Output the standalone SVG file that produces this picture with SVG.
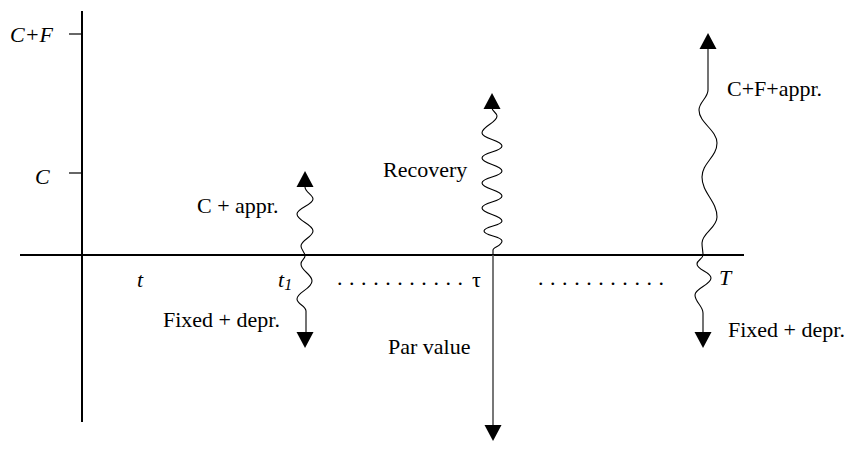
<svg xmlns="http://www.w3.org/2000/svg" xmlns:xlink="http://www.w3.org/1999/xlink" width="847" height="450" viewBox="0 0 847 450">
<style>
  .axis{stroke:#000;stroke-width:2;fill:none}
  .tick{stroke:#000;stroke-width:1.2;fill:none}
  .wave{stroke:#000;stroke-width:1.1;fill:none}
  .par{stroke:#555;stroke-width:1.6;fill:none}
  .lbl{font-family:"Liberation Serif","Times New Roman",serif;font-size:22px;fill:#000}
  .it{font-style:italic}
  .head{fill:#000}
</style>
<defs>
  <path id="up" d="M0,0 L-8.5,16 L8.5,16 Z"/>
  <path id="down" d="M0,0 L-8.5,-16 L8.5,-16 Z"/>
</defs>
<rect width="847" height="450" fill="#fff"/>
<g id="axes">
  <line class="axis" x1="82" y1="11" x2="82" y2="422"/>
  <line class="axis" x1="20" y1="255" x2="744" y2="255"/>
  <line class="tick" x1="69" y1="34" x2="82" y2="34"/>
  <line class="tick" x1="69" y1="173" x2="82" y2="173"/>
  <text class="lbl it" x="10" y="42">C+F</text>
  <text class="lbl it" x="35" y="184">C</text>
  <text class="lbl it" x="137" y="287">t</text>
  <text class="lbl it" x="278" y="287">t<tspan font-size="16" dy="3">1</tspan></text>
  <text class="lbl" x="337" y="285" textLength="126" lengthAdjust="spacing">. . . . . . . . . . .</text>
  <text class="lbl" x="472" y="287">τ</text>
  <text class="lbl" x="538" y="285" textLength="126" lengthAdjust="spacing">. . . . . . . . . . .</text>
  <text class="lbl it" x="719" y="285">T</text>
</g>
<g id="connectors">
  <!-- t1 up -->
  <path class="wave" d="M305,187 C305,192 313,195 313,199 C313,205 297,208 297,214 C297,221 313,224 313,231 C313,237 301,240 301,246 C301,250 305,252 305,256"/>
  <!-- t1 down -->
  <path class="wave" d="M305,256 C305,259 301,260 301,264 C301,271 312,274 312,281 C312,289 297,292 297,299 C297,304 306,306 306,311 L306,332"/>
  <!-- recovery up -->
  <path class="wave" d="M492,108 C492,111 497,113 497,116 C497,123 482,126 482,133 C482,139 502,140 502,146 C502,152 482,152 482,158 C482,164 502,165 502,171 C502,177 482,177 482,183 C482,189 502,190 502,196 C502,202 482,202 482,208 C482,214 502,215 502,221 C502,226 484,226 484,231 C484,236 502,236 502,241 C502,246 493,247 493,250 L493,255"/>
  <!-- par value down -->
  <line class="par" x1="493" y1="255" x2="493" y2="426"/>
  <!-- T up -->
  <path class="wave" d="M708,48 L708,90 C708,98 699,102 699,110 C699,123 717,130 717,143 C717,157 702,163 702,177 C702,193 717,201 717,217 C717,228 702,233 702,243 C702,248 703,251 703,255"/>
  <!-- T down -->
  <path class="wave" d="M703,255 C703,259 697,260 697,264 C697,270 711,272 711,278 C711,285 695,288 695,295 C695,302 703,306 703,313 L703,332"/>
</g>
<g id="heads">
  <use href="#up" class="head" x="305" y="171"/>
  <use href="#down" class="head" x="305" y="348"/>
  <use href="#up" class="head" x="492" y="93"/>
  <use href="#down" class="head" x="493" y="441"/>
  <use href="#up" class="head" x="708" y="33"/>
  <use href="#down" class="head" x="703" y="348"/>
</g>
<g id="labels">
  <text class="lbl" x="197" y="213">C + appr.</text>
  <text class="lbl" x="163" y="327">Fixed + depr.</text>
  <text class="lbl" x="383" y="177">Recovery</text>
  <text class="lbl" x="388" y="354">Par value</text>
  <text class="lbl" x="727" y="96">C+F+appr.</text>
  <text class="lbl" x="728" y="337">Fixed + depr.</text>
</g>
</svg>
